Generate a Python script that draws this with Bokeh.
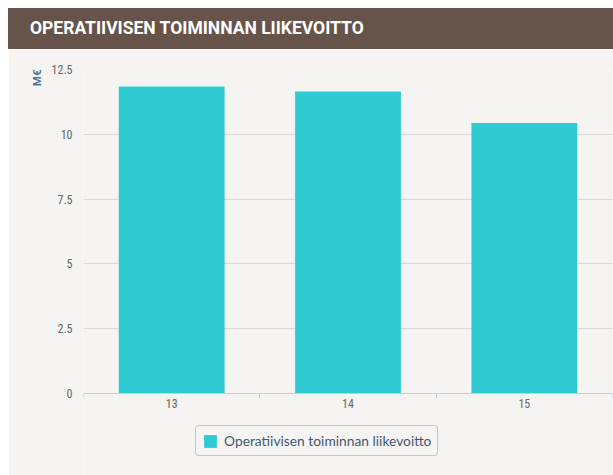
import numpy as np
from bokeh.plotting import figure
from bokeh.layouts import column
from bokeh.models import (ColumnDataSource, FixedTicker, NumeralTickFormatter, Title,
                          Legend, LegendItem, Range1d, Div)
from bokeh.embed import file_html
from bokeh.resources import INLINE

title_text = "OPERATIIVISEN TOIMINNAN LIIKEVOITTO"
categories = ["13", "14", "15"]
values = [11.84, 11.65, 10.44]
series_name = "Operatiivisen toiminnan liikevoitto"
y_ticks = [0, 2.5, 5, 7.5, 10, 12.5]
unit_label = "M€"

BG = "#f5f4f2"
BAR = "#2ecbd3"
BROWN = "#66544a"
W = 605

hdr = Div(text=title_text, width=W, height=41, margin=0,
          styles={"background-color": BROWN, "color": "white",
                  "font-family": "Roboto, sans-serif", "font-weight": "bold",
                  "font-size": "17.5px", "padding-left": "22px", "line-height": "41px",
                  "box-sizing": "border-box", "white-space": "nowrap", "overflow": "hidden"})

xs = list(range(len(categories)))
src = ColumnDataSource(dict(x=xs, top=values, cat=categories))

# frame runs from the top of the value axis down to the bottom of the chart;
# the category axis is pinned at value 0 so the legend can sit below it.
p = figure(width=W, height=426, x_range=Range1d(-0.5, len(categories) - 0.5),
           y_range=Range1d(-3.164, 12.5), toolbar_location=None, output_backend="svg",
           min_border_left=75, min_border_right=1, min_border_top=20, min_border_bottom=0,
           margin=0)
p.background_fill_color = BG
p.border_fill_color = BG
p.outline_line_color = None

r = p.vbar(x="x", top="top", width=0.6, source=src, fill_color=BAR, line_color=None)

p.xgrid.visible = False
p.ygrid.grid_line_color = "#d8d8d8"
p.ygrid.ticker = FixedTicker(ticks=y_ticks)

AXF = "Roboto Condensed, Roboto"
p.yaxis.ticker = FixedTicker(ticks=y_ticks)
p.yaxis.formatter = NumeralTickFormatter(format="0.[0]")
p.yaxis.axis_line_color = None
p.yaxis.major_tick_line_color = None
p.yaxis.minor_tick_line_color = None
p.yaxis.major_label_text_color = "#666666"
p.yaxis.major_label_text_font = AXF
p.yaxis.major_label_text_font_size = "12px"
p.yaxis.major_label_standoff = 5

p.xaxis.fixed_location = 0
p.xaxis.ticker = FixedTicker(ticks=xs, minor_ticks=[i - 0.5 for i in range(len(categories) + 1)])
p.xaxis.major_label_overrides = {i: c for i, c in enumerate(categories)}
p.xaxis.axis_line_color = "#c0d0e0"
p.xaxis.major_tick_line_color = None
p.xaxis.major_tick_out = 0
p.xaxis.minor_tick_line_color = "#c0d0e0"
p.xaxis.minor_tick_in = 0
p.xaxis.minor_tick_out = 5
p.xaxis.major_label_text_color = "#666666"
p.xaxis.major_label_text_font = AXF
p.xaxis.major_label_text_font_size = "12px"
p.xaxis.major_label_standoff = 1

unit = Title(text=unit_label, align="right", text_color="#4d759e", text_font="Roboto",
             text_font_style="bold", text_font_size="11.5px", standoff=9)
p.add_layout(unit, "left")

legend = Legend(items=[LegendItem(label=series_name, renderers=[r])],
                location=(112, 19), orientation="horizontal")
legend.background_fill_color = BG
legend.border_line_color = "#999999"
legend.border_line_width = 1
legend.label_text_font = "Lato"
legend.label_text_font_size = "13.8px"
legend.label_text_color = "#3e576f"
legend.glyph_width = 16
legend.glyph_height = 16
legend.padding = 6
legend.margin = 0
legend.label_standoff = 6
try:
    legend.border_radius = 4
except Exception:
    pass
p.add_layout(legend)

layout = column(hdr, p, spacing=0, margin=(8, 0, 0, 8))
open("out.html", "w").write(file_html(layout, INLINE))
